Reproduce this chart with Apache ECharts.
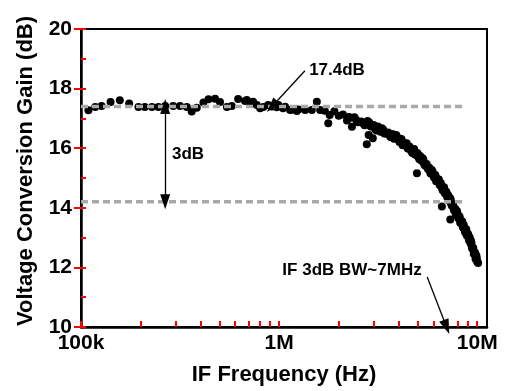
<!DOCTYPE html>
<html>
<head>
<meta charset="utf-8">
<script src="https://cdn.jsdelivr.net/npm/echarts@6/dist/echarts.min.js"></script>
<style>
  html, body { margin: 0; padding: 0; background: #fff; }
  #chart { width: 509px; height: 391px; }
</style>
</head>
<body>
<div id="chart"></div>
<script>
// measured points, [frequency in MHz, gain in dB]
const flatPoints = [
  [0.109, 17.27], [0.118, 17.38], [0.127, 17.42], [0.141, 17.55], [0.157, 17.61],
  [0.175, 17.5], [0.195, 17.38], [0.21, 17.38], [0.228, 17.38], [0.246, 17.38],
  [0.266, 17.42], [0.292, 17.42], [0.316, 17.42], [0.342, 17.38], [0.362, 17.23],
  [0.384, 17.36], [0.415, 17.53], [0.44, 17.64], [0.475, 17.66], [0.503, 17.55],
  [0.545, 17.38], [0.577, 17.42], [0.621, 17.65], [0.673, 17.58], [0.687, 17.62],
  [0.714, 17.52], [0.739, 17.56], [0.771, 17.45], [0.802, 17.34], [0.833, 17.38],
  [0.88, 17.45], [0.919, 17.4], [0.973, 17.37], [0.991, 17.45], [1.047, 17.34],
  [1.072, 17.39], [1.137, 17.28], [1.159, 17.3], [1.228, 17.25], [1.251, 17.3],
  [1.353, 17.28], [1.462, 17.28], [1.55, 17.56], [1.611, 17.28]
]

const rolloffPoints = [
  [1.7, 17.26], [1.8, 17.11], [1.9, 17.24], [2.0, 17.09], [2.1, 17.13], [2.2, 16.93],
  [2.25, 17.05], [2.3, 17.02], [2.4, 17.04], [2.45, 16.95], [2.5, 16.87], [2.6, 16.9],
  [2.65, 16.84], [2.7, 16.77], [2.8, 16.91], [2.85, 16.86], [2.9, 16.73], [3.0, 16.78],
  [3.05, 16.64], [3.1, 16.59], [3.15, 16.73], [3.2, 16.66], [3.25, 16.55], [3.3, 16.67],
  [3.35, 16.63], [3.4, 16.49], [3.45, 16.49], [3.5, 16.51], [3.55, 16.53], [3.6, 16.44],
  [3.65, 16.38], [3.7, 16.47], [3.75, 16.47], [3.8, 16.32], [3.85, 16.33], [3.9, 16.44],
  [3.95, 16.36], [4.0, 16.28], [4.05, 16.21], [4.1, 16.32], [4.15, 16.3], [4.2, 16.1],
  [4.25, 16.12], [4.3, 16.17], [4.35, 16.15], [4.4, 16.17], [4.45, 16.0], [4.5, 15.98],
  [4.55, 16.06], [4.6, 15.98], [4.65, 15.9], [4.7, 15.84], [4.75, 15.95], [4.8, 15.97],
  [4.85, 15.79], [4.9, 15.78], [4.95, 15.85], [5.0, 15.82], [5.05, 15.7], [5.1, 15.63],
  [5.15, 15.74], [5.2, 15.68], [5.25, 15.57], [5.3, 15.66], [5.35, 15.61], [5.4, 15.46],
  [5.45, 15.42], [5.5, 15.45], [5.55, 15.47], [5.6, 15.35], [5.65, 15.29], [5.7, 15.35],
  [5.75, 15.33], [5.8, 15.16], [5.85, 15.15], [5.9, 15.27], [5.95, 15.21], [6.0, 15.08],
  [6.05, 15.02], [6.1, 15.11], [6.15, 15.09], [6.2, 14.89], [6.25, 14.9], [6.3, 14.96],
  [6.35, 14.95], [6.4, 14.95], [6.45, 14.78], [6.5, 14.75], [6.55, 14.83], [6.6, 14.74],
  [6.65, 14.64], [6.7, 14.58], [6.75, 14.68], [6.8, 14.69], [6.85, 14.5], [6.9, 14.48],
  [6.95, 14.55], [7.0, 14.51], [7.05, 14.37], [7.1, 14.3], [7.15, 14.41], [7.2, 14.34],
  [7.25, 14.23], [7.3, 14.32], [7.35, 14.27], [7.4, 14.11], [7.45, 14.07], [7.5, 14.09],
  [7.55, 14.12], [7.6, 13.98], [7.65, 13.91], [7.7, 13.97], [7.75, 13.96], [7.8, 13.78],
  [7.85, 13.77], [7.9, 13.89], [7.95, 13.82], [8.0, 13.68], [8.05, 13.64], [8.1, 13.72],
  [8.15, 13.7], [8.2, 13.5], [8.25, 13.51], [8.3, 13.56], [8.35, 13.55], [8.4, 13.54],
  [8.45, 13.37], [8.5, 13.33], [8.55, 13.42], [8.6, 13.33], [8.65, 13.23], [8.7, 13.17],
  [8.75, 13.28], [8.8, 13.28], [8.85, 13.09], [8.9, 13.07], [8.95, 13.14], [9.0, 13.1],
  [9.05, 12.96], [9.1, 12.9], [9.15, 13.01], [9.2, 12.94], [9.25, 12.8], [9.3, 12.89],
  [9.35, 12.83], [9.4, 12.67], [9.45, 12.63], [9.5, 12.66], [9.55, 12.65], [9.6, 12.46],
  [9.65, 12.45], [9.7, 12.51], [9.75, 12.48], [9.8, 12.29], [9.85, 12.28], [9.9, 12.4],
  [9.95, 12.31], [10.0, 12.18], [10.1, 12.15]
]

const outlierPoints = [
  [1.77, 16.84], [2.33, 16.72], [2.77, 16.13], [2.83, 16.44], [2.97, 16.33],
  [4.96, 15.16], [6.63, 14.04], [7.31, 13.61]
]

// dashed reference levels (dB) and their frequency span (Hz)
const refLevels = [17.4, 14.2]
const refSpan = [1e5, 8.7e6]

// annotation arrows, [Hz, dB] start -> tip
const peakArrow = [[1.35e6, 18.6], [9.2e5, 17.4]]
const dropArrow = [[2.66e5, 17.4], [2.66e5, 14.2]]
const bwArrow = [[5.59e6, 11.68], [7e6, 10]]

// axis ticks
const xMin = 1e5
const xMax = 1.12e7
const xTickValues = [1e5, 1e6, 1e7]
const xTickLabels = ['100k', '1M', '10M']
const xMinorTicks = [
  1e5, 2e5, 3e5, 4e5, 5e5, 6e5, 7e5, 8e5, 9e5,
  1e6, 2e6, 3e6, 4e6, 5e6, 6e6, 7e6, 8e6, 9e6, 1e7
]

const font = 'Liberation Sans, Arial, sans-serif'
const tickColor = 'red' // temporary, to check the ticks are drawn
const toHz = arr => arr.map(p => [p[0] * 1e6, p[1]])

const chart = echarts.init(document.getElementById('chart'))

chart.setOption({
  animation: false,
  grid: {
    left: 81,
    right: 22,
    top: 29,
    bottom: 64,
    show: true,
    borderColor: '#000',
    borderWidth: 2
  },
  xAxis: [{
    // data axis
    type: 'log',
    logBase: 10,
    min: xMin,
    max: xMax,
    name: 'IF Frequency (Hz)',
    nameLocation: 'middle',
    nameGap: 37,
    nameTextStyle: { fontFamily: font, fontWeight: 'bold', fontSize: 22, color: '#000' },
    axisLine: { lineStyle: { color: '#000', width: 2.5 } },
    axisTick: { show: false },
    axisLabel: { show: false },
    splitLine: { show: false }
  }, {
    // tick/label axis, in decades
    type: 'value',
    position: 'bottom',
    min: Math.log10(xMin),
    max: Math.log10(xMax),
    axisLine: { show: false },
    axisTick: {
      show: true,
      inside: true,
      length: 6,
      customValues: xMinorTicks.map(Math.log10),
      lineStyle: { color: tickColor, width: 2 }
    },
    axisLabel: {
      customValues: xTickValues.map(Math.log10),
      margin: 6,
      fontFamily: font,
      fontWeight: 'bold',
      fontSize: 21,
      color: '#000',
      formatter: v => xTickLabels[Math.round(v) - 5] || ''
    },
    splitLine: { show: false }
  }],
  yAxis: [{
    type: 'value',
    min: 10,
    max: 20,
    interval: 2,
    name: 'Voltage Conversion Gain (dB)',
    nameLocation: 'middle',
    nameGap: 44,
    nameTextStyle: { fontFamily: font, fontWeight: 'bold', fontSize: 22, color: '#000', padding: [0, 0, 0, 14] },
    axisLine: { lineStyle: { color: '#000', width: 2.5 } },
    axisTick: { show: true, length: 7, lineStyle: { color: tickColor, width: 2 } },
    axisLabel: { margin: 9, fontFamily: font, fontWeight: 'bold', fontSize: 21, color: '#000' },
    splitLine: { show: false }
  }, {
    // inner minor ticks
    type: 'value',
    position: 'left',
    min: 10,
    max: 20,
    interval: 1,
    axisLine: { show: false },
    axisTick: { show: true, inside: true, length: 5, lineStyle: { color: tickColor, width: 2 } },
    axisLabel: { show: false },
    splitLine: { show: false }
  }],
  series: [
    {
      type: 'scatter',
      symbolSize: 8,
      itemStyle: { color: '#000', opacity: 1 },
      data: toHz(flatPoints).concat(toHz(rolloffPoints), toHz(outlierPoints))
    },
    ...refLevels.map((lv, i) => ({
      type: 'line',
      symbol: 'none',
      lineStyle: { color: '#a9a9a9', width: 3.5, type: [7, 4] },
      data: [[refSpan[0], lv], [refSpan[1], lv]],
      markLine: i === 0 ? {
        silent: true,
        symbol: ['none', 'triangle'],
        symbolSize: [10, 15],
        label: { show: false },
        lineStyle: { color: '#000', width: 1.3, type: 'solid' },
        data: [
          [{ coord: peakArrow[0] }, { coord: peakArrow[1] }],
          [{ coord: bwArrow[0] }, { coord: bwArrow[1] }],
          [{ coord: dropArrow[0], symbol: 'triangle' }, { coord: dropArrow[1] }]
        ]
      } : undefined
    }))
  ],
  graphic: [
    { type: 'text', x: 337, y: 70, style: { text: '17.4dB', font: 'bold 17px ' + font, fill: '#000', align: 'center', verticalAlign: 'middle' } },
    { type: 'text', x: 188, y: 154, style: { text: '3dB', font: 'bold 17px ' + font, fill: '#000', align: 'center', verticalAlign: 'middle' } },
    { type: 'text', x: 352, y: 270, style: { text: 'IF 3dB BW~7MHz', font: 'bold 17px ' + font, fill: '#000', align: 'center', verticalAlign: 'middle' } }
  ]
})
</script>
</body>
</html>
